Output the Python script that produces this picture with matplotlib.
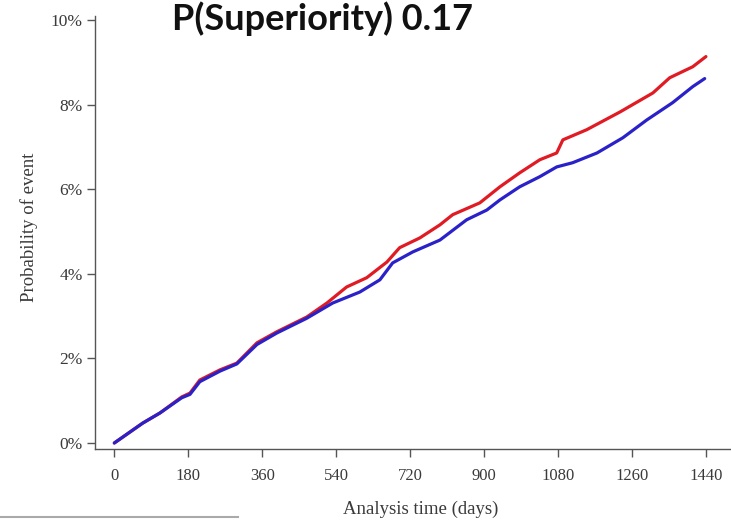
import matplotlib.pyplot as plt
from matplotlib.lines import Line2D

# days / probability of event (%)
red_days = [0, 69, 111, 164, 184, 208, 257, 298, 347, 395, 468, 517, 565, 614,
            663, 694, 743, 792, 823, 889, 938, 986, 1035, 1076, 1091, 1149,
            1230, 1310, 1351, 1407, 1439]
red_prob = [0.0, 0.47, 0.71, 1.09, 1.18, 1.49, 1.73, 1.89, 2.37, 2.63, 2.98,
            3.31, 3.69, 3.91, 4.28, 4.62, 4.85, 5.16, 5.40, 5.68, 6.06, 6.39,
            6.70, 6.86, 7.17, 7.41, 7.83, 8.28, 8.64, 8.90, 9.14]

blue_days = [0, 69, 111, 164, 184, 208, 257, 298, 347, 395, 468, 531, 597, 646,
             677, 726, 792, 857, 906, 938, 986, 1035, 1076, 1115, 1174, 1237,
             1295, 1358, 1407, 1436]
blue_prob = [0.0, 0.47, 0.71, 1.07, 1.15, 1.45, 1.70, 1.87, 2.33, 2.60, 2.95,
             3.31, 3.57, 3.86, 4.26, 4.52, 4.80, 5.28, 5.51, 5.75, 6.06, 6.30,
             6.53, 6.63, 6.86, 7.22, 7.64, 8.05, 8.43, 8.62]

xticks = [0, 180, 360, 540, 720, 900, 1080, 1260, 1440]
yticks = [0, 2, 4, 6, 8, 10]

fig = plt.figure(figsize=(7.31, 5.2), dpi=100)
ax = fig.add_axes([95 / 731, 1 - 449 / 520, 1 - 95 / 731, (449 - 16) / 520])

ax.plot(red_days, red_prob, color='#e01b24', lw=2.3, solid_capstyle='round')
ax.plot(blue_days, blue_prob, color='#2a22c8', lw=2.3, solid_capstyle='round')

ax.set_xlim(-47, 1500)
ax.set_ylim(-0.142, 10.1)
ax.set_xticks(xticks)
ax.set_yticks(yticks)
ax.set_yticklabels([f"{v}%" for v in yticks])

serif = 'Liberation Serif'
for lab in ax.get_xticklabels():
    lab.set_fontfamily(serif)
    lab.set_fontsize(12)
    lab.set_color('#3a3a3a')
for lab in ax.get_yticklabels():
    lab.set_fontfamily(serif)
    lab.set_fontsize(12.5)
    lab.set_color('#3a3a3a')

ax.spines['top'].set_visible(False)
ax.spines['right'].set_visible(False)
for s in ['left', 'bottom']:
    ax.spines[s].set_color('#555555')
    ax.spines[s].set_linewidth(1.0)
ax.tick_params(direction='out', length=6, width=1, color='#555555')
ax.tick_params(axis='x', pad=8)
ax.tick_params(axis='y', pad=3)

ax.set_xlabel("Analysis time (days)", fontfamily=serif, fontsize=13.5, color='#3a3a3a')
ax.set_ylabel("Probability of event", fontfamily=serif, fontsize=13.5, color='#3a3a3a')
ax.xaxis.set_label_coords((421 - 95) / (731 - 95), -(501 - 449) / 433)
ax.yaxis.set_label_coords(-(95 - 38) / (731 - 95), (449 - 227) / 433)

fig.text(172 / 731, 1 - 19 / 520, "P(Superiority) 0.17", fontfamily='Lato',
         fontweight='bold', fontsize=26, ha='left', va='center', color='#111111')

# thin grey line at the bottom-left edge of the screenshot
fig.add_artist(Line2D([0, 238 / 731], [1 - 517 / 520] * 2, color='#aaaaaa', lw=1.5))

fig.savefig("out.png", dpi=100)
